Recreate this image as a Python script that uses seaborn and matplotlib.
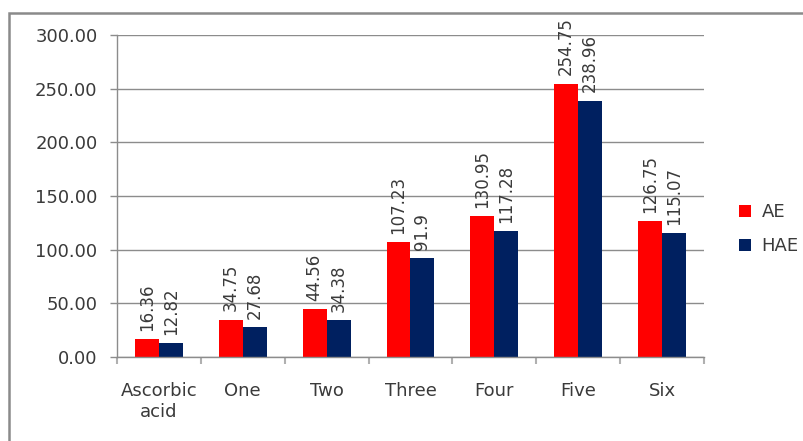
import matplotlib
matplotlib.use("Agg")
import matplotlib.pyplot as plt
import seaborn as sns
import pandas as pd
from matplotlib.patches import Rectangle, Patch

categories = ["Ascorbic\nacid", "One", "Two", "Three", "Four", "Five", "Six"]
ae_values = [16.36, 34.75, 44.56, 107.23, 130.95, 254.75, 126.75]
hae_values = [12.82, 27.68, 34.38, 91.9, 117.28, 238.96, 115.07]
ae_labels = ["16.36", "34.75", "44.56", "107.23", "130.95", "254.75", "126.75"]
hae_labels = ["12.82", "27.68", "34.38", "91.9", "117.28", "238.96", "115.07"]
series = ["AE", "HAE"]
colors = ["#FF0000", "#002060"]

df = pd.DataFrame({
    "category": categories * 2,
    "value": ae_values + hae_values,
    "series": [series[0]] * len(categories) + [series[1]] * len(categories),
})

sns.set_theme(style="white")
plt.rcParams['font.family'] = ['DejaVu Sans']
text_color = "#3a3a3a"
line_gray = "#8c8c8c"

fig = plt.figure(figsize=(8.04, 4.41), dpi=100)
ax = fig.add_axes([117/804, 1-357/441, (704-117)/804, (357-35)/441])

sns.barplot(data=df, x="category", y="value", hue="series", palette=colors,
            width=0.572, gap=0, ax=ax, legend=False, saturation=1, linewidth=0)

for cont, labs in zip(ax.containers, [ae_labels, hae_labels]):
    ax.bar_label(cont, labels=labs, rotation=90, padding=6, fontsize=12, color=text_color)

ax.set_ylim(0, 300)
ax.set_xlim(-0.5, len(categories) - 0.5)
ax.set_yticks([0, 50, 100, 150, 200, 250, 300])
ax.set_yticklabels([f"{v:.2f}" for v in [0, 50, 100, 150, 200, 250, 300]])
ax.yaxis.grid(True, color=line_gray, linewidth=1)
ax.set_axisbelow(True)
ax.set_xlabel("")
ax.set_ylabel("")
for s in ["top", "right"]:
    ax.spines[s].set_visible(False)
for s in ["left", "bottom"]:
    ax.spines[s].set_color(line_gray)
    ax.spines[s].set_linewidth(1)

ax.tick_params(axis="y", left=True, length=5, width=1, color=line_gray, pad=9,
               labelsize=13, labelcolor=text_color)
ax.tick_params(axis="x", which="major", length=0, pad=18, labelsize=13, labelcolor=text_color)
ax.set_xticks([i - 0.5 for i in range(len(categories) + 1)], minor=True)
ax.tick_params(axis="x", which="minor", bottom=True, length=5, width=1.5, color="#b0b0b0", direction="out")

handles = [Patch(facecolor=c, edgecolor="none", label=s) for c, s in zip(colors, series)]
leg = fig.legend(handles=handles, loc="center left", bbox_to_anchor=(739/804, 1-229/441),
                 frameon=False, fontsize=13, handlelength=0.65, handleheight=0.65,
                 labelspacing=0.9, handletextpad=0.6, labelcolor=text_color,
                 borderaxespad=0, borderpad=0)

top = 1 - 13/441
fig.patches.append(Rectangle((9/804, -0.1), 1.2, top + 0.1, transform=fig.transFigure,
                             fill=False, edgecolor="#8a8a8a", linewidth=1.8, figure=fig))

fig.savefig("out.png", dpi=100)
